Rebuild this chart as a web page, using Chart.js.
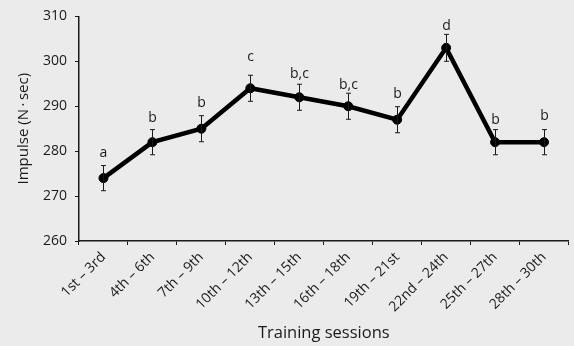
<!DOCTYPE html>
<html>
<head>
<meta charset="utf-8">
<script src="https://cdn.jsdelivr.net/npm/chart.js@4/dist/chart.umd.min.js"></script>
<style>
  html, body { margin: 0; padding: 0; background: #ebebeb; overflow: hidden; }
  #wrap { width: 574px; height: 346px; position: relative; }
</style>
</head>
<body>
<div id="wrap"><canvas id="c"></canvas></div>
<script>
// Training session blocks
const sessions = ['1st \u2013 3rd', '4th \u2013 6th', '7th \u2013 9th', '10th \u2013 12th',
  '13th \u2013 15th', '16th \u2013 18th', '19th \u2013 21st', '22nd \u2013 24th',
  '25th \u2013 27th', '28th \u2013 30th'];
// Mean impulse (N·sec) and its error
const impulse = [274, 282, 285, 294, 292, 290, 287, 303, 282, 282];
const impulseErr = [2.8, 2.8, 2.9, 2.9, 2.9, 2.9, 2.9, 3.0, 2.8, 2.8];
// Significance groups
const groups = ['a', 'b', 'b', 'c', 'b,c', 'b,c', 'b', 'd', 'b', 'b'];
// Y axis ticks
const yTicks = [260, 270, 280, 290, 300, 310];
const yTitle = 'Impulse (N\u2009\u00b7\u2009sec)';

const FONT = '"Open Sans", "DejaVu Sans", sans-serif';
const INK = '#1a1a1a';
// gap (px) between each error cap and its group letter
const letterGap = [9, 8, 9, 14, 6, 4, 9, 4, 6, 10];

const errorBars = {
  id: 'errorBars',
  afterDatasetsDraw(chart) {
    const { ctx, chartArea, scales: { x, y } } = chart;
    ctx.save();
    ctx.strokeStyle = INK;
    ctx.lineWidth = 1;
    ctx.fillStyle = INK;
    ctx.font = '14px ' + FONT;
    ctx.textAlign = 'center';
    ctx.textBaseline = 'alphabetic';
    impulse.forEach((v, i) => {
      const px = Math.round(x.getPixelForValue(i)) + 0.5;
      const top = y.getPixelForValue(v + impulseErr[i]);
      const bot = y.getPixelForValue(v - impulseErr[i]);
      ctx.beginPath();
      ctx.moveTo(px, top); ctx.lineTo(px, bot);
      ctx.moveTo(px - 2.5, top); ctx.lineTo(px + 2.5, top);
      ctx.moveTo(px - 2.5, bot); ctx.lineTo(px + 2.5, bot);
      ctx.stroke();
      ctx.fillText(groups[i], px, top - letterGap[i]);
    });
    // vertical axis title, centred on the plot height
    ctx.font = '15px ' + FONT;
    ctx.textBaseline = 'middle';
    ctx.translate(24, (chartArea.top + chartArea.bottom) / 2);
    ctx.rotate(-Math.PI / 2);
    ctx.fillText(yTitle, 0, 0);
    ctx.restore();
  }
};

new Chart(document.getElementById('c'), {
  type: 'line',
  data: {
    labels: sessions,
    datasets: [{
      data: impulse,
      borderColor: '#000',
      borderWidth: 4.5,
      pointRadius: 4.5,
      pointBorderWidth: 1,
      pointBackgroundColor: '#000',
      pointBorderColor: '#000',
      tension: 0
    }]
  },
  options: {
    responsive: true,
    maintainAspectRatio: false,
    animation: false,
    layout: { padding: { top: 15, right: 0, left: 0, bottom: 0 } },
    plugins: { legend: { display: false }, tooltip: { enabled: false } },
    scales: {
      x: {
        offset: true,
        afterFit(s) { s.height = 105; },
        grid: { offset: true, drawOnChartArea: false, drawTicks: true, tickLength: 4, color: INK, lineWidth: 1 },
        border: { display: true, color: INK, width: 1.5 },
        ticks: { color: INK, font: { family: FONT, size: 14 }, minRotation: 45, maxRotation: 45, padding: 4, autoSkip: false },
        title: { display: true, text: 'Training sessions', color: INK, font: { family: FONT, size: 16.5 }, padding: { top: 0, bottom: 3 } }
      },
      y: {
        min: 260, max: 310,
        afterFit(s) { s.width = 79; },
        afterBuildTicks(s) { s.ticks = yTicks.map(v => ({ value: v })); },
        grid: { drawOnChartArea: false, drawTicks: true, tickLength: 4, color: INK, lineWidth: 1 },
        border: { display: true, color: INK, width: 1.5 },
        ticks: { color: INK, font: { family: FONT, size: 14 }, padding: 8 },
        title: { display: false }
      }
    }
  },
  plugins: [errorBars]
});
</script>
</body>
</html>
